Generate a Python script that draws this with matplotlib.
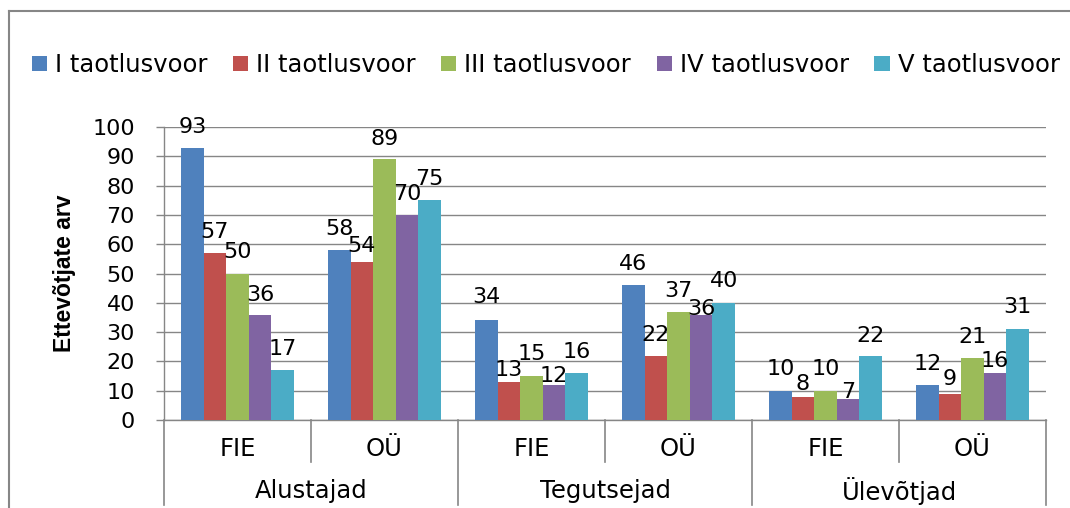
import matplotlib
matplotlib.use("Agg")
import matplotlib.pyplot as plt
import matplotlib.transforms as mtransforms
from matplotlib.lines import Line2D
import numpy as np

plt.rcParams['font.family'] = ['DejaVu Sans']

# ---- data ----
groups = ["Alustajad", "Tegutsejad", "Ülevõtjad"]
subcats = ["FIE", "OÜ", "FIE", "OÜ", "FIE", "OÜ"]
series_names = ["I taotlusvoor", "II taotlusvoor", "III taotlusvoor",
                "IV taotlusvoor", "V taotlusvoor"]
voor_I = [93, 58, 34, 46, 10, 12]
voor_II = [57, 54, 13, 22, 8, 9]
voor_III = [50, 89, 15, 37, 10, 21]
voor_IV = [36, 70, 12, 36, 7, 16]
voor_V = [17, 75, 16, 40, 22, 31]
series = [voor_I, voor_II, voor_III, voor_IV, voor_V]
colors = ["#4F81BD", "#C0504D", "#9BBB59", "#8064A2", "#4BACC6"]
y_ticks = [0, 10, 20, 30, 40, 50, 60, 70, 80, 90, 100]
y_label = "Ettevõtjate arv"

# label baseline distance above bar top (pixels), as placed in the original
label_gap = [
    [15, 15, 17, 15, 16, 15],
    [15, 10, 6, 15, 7, 9],
    [15, 14, 16, 15, 16, 15],
    [14, 15, 3, 0, 1, 6],
    [15, 15, 15, 16, 14, 16],
]

W, H = 1070, 508
fig = plt.figure(figsize=(W / 100, H / 100), dpi=100)
ax_left, ax_right, ax_top, ax_bot = 164, 1046, 127, 420
ax = fig.add_axes([ax_left / W, 1 - ax_bot / H, (ax_right - ax_left) / W,
                   (ax_bot - ax_top) / H])

grey = "#868686"
n = len(series)
x = np.arange(len(subcats))
bw = 1 / 6.5
for i, (vals, col, name) in enumerate(zip(series, colors, series_names)):
    bars = ax.bar(x + (i - (n - 1) / 2) * bw, vals, width=bw, color=col,
                  label=name, linewidth=0, zorder=3)
    for b, v, gap in zip(bars, vals, label_gap[i]):
        ax.annotate(str(v), xy=(b.get_x() + b.get_width() / 2, b.get_height()),
                    xytext=(0, gap * 0.72), textcoords="offset points",
                    ha="center", va="baseline", fontsize=16, color="black",
                    zorder=4, annotation_clip=False)

ax.set_xlim(-0.5, len(subcats) - 0.5)
ax.set_ylim(0, 100)
ax.set_yticks(y_ticks)
ax.set_yticklabels([str(t) for t in y_ticks], fontsize=16)
ax.tick_params(axis="y", direction="out", length=6, width=1, color=grey,
               pad=15)
ax.tick_params(axis="x", bottom=False, labelbottom=False)
ax.yaxis.grid(True, color=grey, linewidth=1)
ax.set_axisbelow(True)
for s in ["top", "right"]:
    ax.spines[s].set_visible(False)
for s in ["left", "bottom"]:
    ax.spines[s].set_color(grey)
    ax.spines[s].set_linewidth(1)

# multi-level category axis
trans = mtransforms.blended_transform_factory(ax.transData, ax.transAxes)
ph = ax_bot - ax_top
inner_y = -(462 - ax_bot) / ph
outer_y = -(505 - ax_bot) / ph
for xi in [0.5, 2.5, 4.5]:
    ax.plot([xi, xi], [0, inner_y], transform=trans, color=grey, lw=1.2,
            clip_on=False)
for xi in [-0.5, 1.5, 3.5, 5.5]:
    ax.plot([xi, xi], [0, outer_y], transform=trans, color=grey, lw=1.2,
            clip_on=False)
for xi, lab in zip(x, subcats):
    ax.text(xi, -(449 - ax_bot) / ph, lab, transform=trans, ha="center",
            va="center", fontsize=17.5)
for gi, g in enumerate(groups):
    ax.text(2 * gi + 0.5, -(491 - ax_bot) / ph, g, transform=trans,
            ha="center", va="center", fontsize=17.5)

# y label
fig.text(64 / W, 1 - 273 / H, y_label, rotation=90, ha="center", va="center",
         fontsize=16.5, fontweight="bold", family=["Liberation Sans", "DejaVu Sans"])

# legend
leg = fig.legend(loc="center left", bbox_to_anchor=(32 / W, 1 - 65 / H),
                 ncol=5, frameon=False, fontsize=17.5, borderpad=0,
                 borderaxespad=0, handlelength=0.62, handleheight=0.53,
                 handletextpad=0.33, columnspacing=1.05)

# outer chart frame (cropped at right and bottom)
fig.add_artist(Line2D([9 / W, 1.02], [1 - 11 / H, 1 - 11 / H],
                      transform=fig.transFigure, color=grey, lw=1.5))
fig.add_artist(Line2D([9 / W, 9 / W], [1 - 11 / H, -0.02],
                      transform=fig.transFigure, color=grey, lw=1.5))

fig.savefig("out.png", dpi=100)
